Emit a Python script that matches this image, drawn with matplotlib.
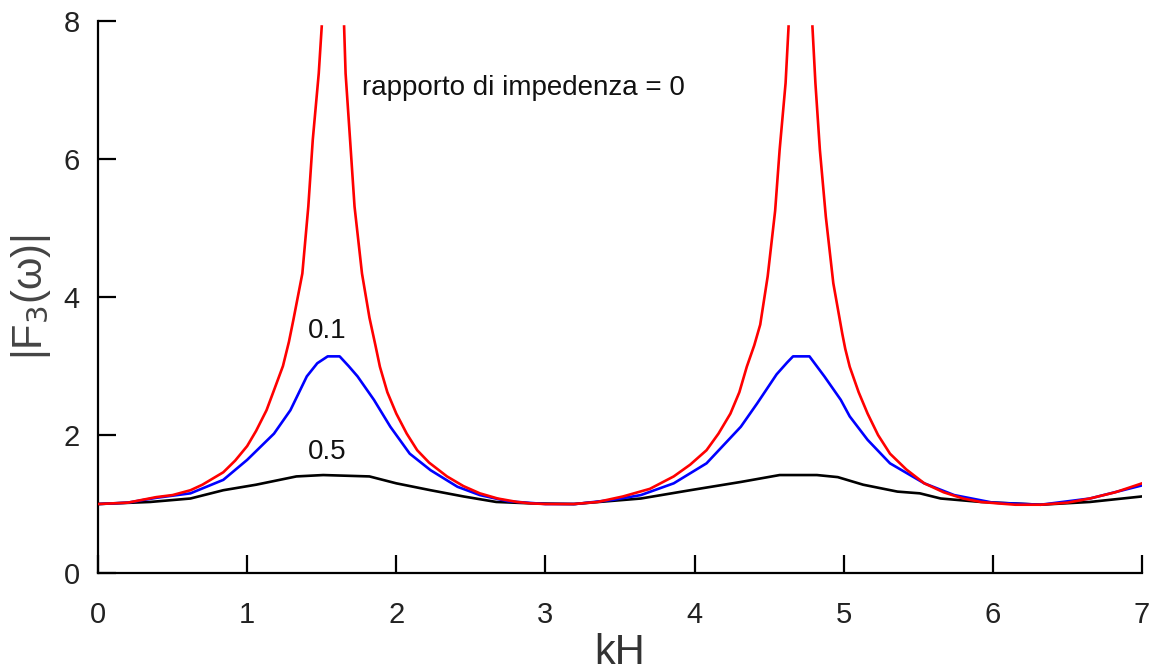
import numpy as np
import matplotlib
matplotlib.use("Agg")
import matplotlib.pyplot as plt

plt.rcParams['font.family'] = ['Liberation Sans', 'DejaVu Sans']

# rapporto di impedenza = 0 (curva rossa, asintoti a kH = pi/2, 3pi/2)
kh_0 = [0.0, 0.2, 0.39, 0.5, 0.62, 0.7, 0.84, 0.92, 1.0, 1.06, 1.13, 1.18, 1.24, 1.28,
        1.31, 1.37, 1.41, 1.44, 1.48, 1.50,
        np.nan,
        1.65, 1.66, 1.69, 1.72, 1.77, 1.82, 1.86, 1.89, 1.94, 2.0, 2.07, 2.14, 2.22,
        2.34, 2.45, 2.56, 2.68, 2.81, 2.9, 3.0,
        3.19, 3.35, 3.52, 3.7, 3.86, 3.97, 4.08, 4.16, 4.24, 4.30, 4.35, 4.40, 4.44,
        4.49, 4.54, 4.57, 4.61, 4.63,
        np.nan,
        4.79, 4.81, 4.84, 4.88, 4.93, 4.99, 5.01, 5.04, 5.10, 5.16, 5.23, 5.31, 5.42,
        5.54, 5.67, 5.80, 5.92, 6.03, 6.15, 6.32, 6.5, 6.65, 6.82, 7.0]
f_0 = [1.0, 1.02, 1.10, 1.13, 1.20, 1.28, 1.46, 1.63, 1.84, 2.06, 2.36, 2.65, 3.0, 3.35,
       3.67, 4.34, 5.31, 6.28, 7.24, 7.92,
       np.nan,
       7.92, 7.24, 6.28, 5.31, 4.34, 3.70, 3.3, 2.99, 2.62, 2.31, 2.02, 1.78, 1.6,
       1.40, 1.26, 1.155, 1.08, 1.03, 1.01, 1.0,
       1.0, 1.03, 1.11, 1.22, 1.40, 1.57, 1.78, 2.02, 2.31, 2.62, 2.99, 3.3, 3.6,
       4.3, 5.25, 6.13, 7.10, 7.92,
       np.nan,
       7.92, 7.10, 6.13, 5.16, 4.20, 3.47, 3.25, 2.99, 2.62, 2.31, 2.0, 1.73, 1.5,
       1.30, 1.17, 1.08, 1.03, 1.01, 0.99, 0.99, 1.02, 1.08, 1.17, 1.30]

# rapporto di impedenza = 0.1 (curva blu)
kh_01 = [0.0, 0.2, 0.39, 0.62, 0.84, 1.0, 1.18, 1.29, 1.40, 1.47, 1.54, 1.62, 1.68, 1.74,
         1.85, 1.96, 2.09, 2.23, 2.41, 2.56, 2.75, 3.0, 3.2, 3.45, 3.64, 3.86, 4.08,
         4.31, 4.42, 4.55, 4.62, 4.66, 4.77, 4.87, 4.98, 5.04, 5.16, 5.31, 5.54, 5.74,
         6.0, 6.32, 6.65, 7.0]
f_01 = [1.0, 1.02, 1.09, 1.155, 1.35, 1.64, 2.02, 2.36, 2.85, 3.04, 3.14, 3.14, 3.0, 2.85,
        2.51, 2.12, 1.73, 1.49, 1.25, 1.13, 1.04, 1.0, 1.0, 1.06, 1.13, 1.30, 1.59,
        2.12, 2.46, 2.88, 3.05, 3.14, 3.14, 2.85, 2.51, 2.27, 1.93, 1.59, 1.30, 1.13,
        1.02, 0.99, 1.08, 1.27]

# rapporto di impedenza = 0.5 (curva nera)
kh_05 = [0.0, 0.35, 0.62, 0.84, 1.06, 1.33, 1.51, 1.82, 2.0, 2.23, 2.45, 2.67, 2.90,
         3.19, 3.64, 3.97, 4.31, 4.57, 4.82, 4.96, 5.13, 5.36, 5.51, 5.65, 5.92, 6.32,
         6.65, 7.0]
f_05 = [1.0, 1.03, 1.08, 1.20, 1.28, 1.40, 1.42, 1.40, 1.30, 1.20, 1.11, 1.03, 1.01,
        1.0, 1.08, 1.20, 1.32, 1.42, 1.42, 1.39, 1.28, 1.18, 1.155, 1.08, 1.03, 0.99,
        1.03, 1.11]

fig = plt.figure(figsize=(11.53, 6.71), dpi=100)
ax = fig.add_axes([0.085, 0.146, 0.9055, 0.8227])

ax.plot(kh_0, f_0, color='#ff0000', lw=1.9, zorder=3)
ax.plot(kh_01, f_01, color='#0000ff', lw=1.9, zorder=2)
ax.plot(kh_05, f_05, color='black', lw=1.9, zorder=1)

ax.text(1.77, 7.03, 'rapporto di impedenza = 0', fontsize=20, color='#111111',
        ha='left', va='center')
ax.text(1.536, 3.51, '0.1', fontsize=20, color='#111111', ha='center', va='center')
ax.text(1.536, 1.75, '0.5', fontsize=20, color='#111111', ha='center', va='center')

ax.set_xlim(0, 7)
ax.set_ylim(0, 8)
ax.set_xticks(range(0, 8))
ax.set_yticks([0, 2, 4, 6, 8])

for s in ['top', 'right']:
    ax.spines[s].set_visible(False)
for s in ['left', 'bottom']:
    ax.spines[s].set_linewidth(1.6)

ax.tick_params(axis='both', direction='in', length=13, width=1.6,
               labelsize=21, labelcolor='#222222')
ax.tick_params(axis='x', pad=20)
ax.tick_params(axis='y', pad=13)

ax.set_xlabel('kH', fontsize=30, color='#333333')
ax.xaxis.set_label_coords(0.5, -0.108)
ax.set_ylabel(r'|F$_3$(ω)|', fontsize=30, color='#444444')
ax.yaxis.set_label_coords(-0.043, 0.5)

fig.savefig('out.png', dpi=100)
